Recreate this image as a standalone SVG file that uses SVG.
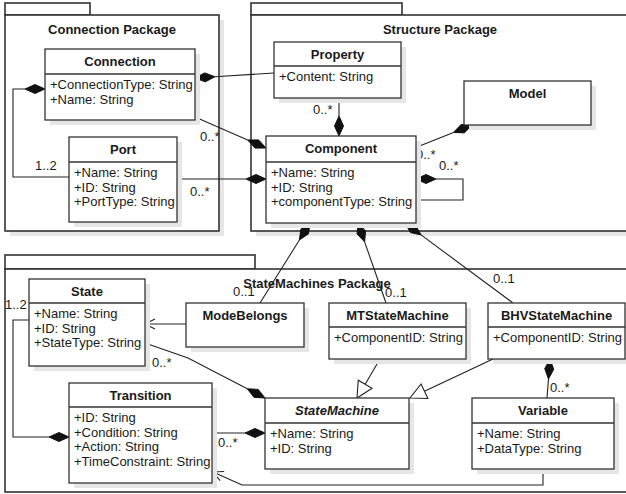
<svg xmlns="http://www.w3.org/2000/svg" width="626" height="494" viewBox="0 0 626 494">
<style>
.pkg{fill:#fff;stroke:#333;stroke-width:1.6}
.sh{fill:#e6e6e6;stroke:none}
.cls{fill:#fff;stroke:#333;stroke-width:1.3}
.div{stroke:#333;stroke-width:1.3}
.ln{fill:none;stroke:#222;stroke-width:1.1}
.dm{fill:#111;stroke:#111;stroke-width:1}
.tri{fill:#fff;stroke:#222;stroke-width:1.1}
text{font-family:"Liberation Sans",Arial,sans-serif;font-size:13px;fill:#1a1a1a}
.t{font-weight:bold;text-anchor:middle}
.it{font-style:italic}
</style>
<rect width="626" height="494" fill="#fff"/>
<!-- packages -->
<g id="pkg-connection">
<rect class="sh" x="10" y="20" width="214" height="216"/>
<rect class="pkg" x="5" y="3" width="85" height="12"/>
<rect class="pkg" x="5" y="15" width="214" height="216"/>
<text class="t" x="112" y="34">Connection Package</text>
</g>
<g id="pkg-structure">
<rect class="sh" x="256" y="20" width="380" height="216"/>
<rect class="pkg" x="251" y="3" width="151" height="12"/>
<rect class="pkg" x="251" y="15" width="380" height="216"/>
<text class="t" x="440" y="34">Structure Package</text>
</g>
<g id="pkg-statemachines">
<rect class="pkg" x="5" y="255" width="250" height="14"/>
<rect class="pkg" x="5" y="269" width="626" height="223"/>
<text class="t" x="317" y="288">StateMachines Package</text>
</g>
<!-- connectors -->
<g id="connectors">
<polyline class="ln" points="69,177 13,177 13,89 25,89"/>
<polygon class="dm" points="45,89 35,84.5 25,89 35,93.5"/>
<text x="35" y="170">1..2</text>
<line class="ln" x1="214.96" y1="76.74" x2="274" y2="73"/>
<polygon class="dm" points="195,78 205.28,81.86 214.96,76.74 204.72,72.88"/>
<line class="ln" x1="195" y1="117" x2="247.67" y2="140"/>
<polygon class="dm" points="266,148 258.64,139.88 247.67,140 255.04,148.12"/>
<text x="200" y="141">0..*</text>
<line class="ln" x1="177" y1="179" x2="246" y2="179"/>
<polygon class="dm" points="266,179 256,174.5 246,179 256,183.5"/>
<text x="190" y="196">0..*</text>
<line class="ln" x1="339" y1="98" x2="339" y2="116"/>
<polygon class="dm" points="339,136 343.5,126 339,116 334.5,126"/>
<text x="313" y="114">0..*</text>
<line class="ln" x1="453.43" y1="132.43" x2="417" y2="147"/>
<polygon class="dm" points="472,125 461.05,124.53 453.43,132.43 464.39,132.89"/>
<text x="416" y="159">0..*</text>
<text x="439" y="170">0..*</text>
<polyline class="ln" points="436,179 463,179 463,200 416,200"/>
<polygon class="dm" points="416,179 426,174.5 436,179 426,183.5"/>
<line class="ln" x1="299.4" y1="239.96" x2="260" y2="303"/>
<polygon class="dm" points="310,223 300.88,229.09 299.4,239.96 308.52,233.87"/>
<text x="233" y="296">0..1</text>
<line class="ln" x1="364.61" y1="241.88" x2="386" y2="303"/>
<polygon class="dm" points="358,223 357.05,233.93 364.61,241.88 365.55,230.95"/>
<text x="385" y="297">0..1</text>
<line class="ln" x1="421.07" y1="234.9" x2="513" y2="303"/>
<polygon class="dm" points="405,223 410.36,232.57 421.07,234.9 415.72,225.33"/>
<text x="493" y="283">0..1</text>
<line class="ln" x1="186" y1="324" x2="145" y2="324"/>
<polyline class="ln" points="155,319 145,324 155,329"/>
<polyline class="ln" points="145,343 188,358 247.25,388.78"/>
<polygon class="dm" points="265,398 258.2,389.4 247.25,388.78 254.06,397.38"/>
<text x="152" y="367">0..*</text>
<polyline class="ln" points="29,320 13,320 13,437 49,437"/>
<polygon class="dm" points="69,437 59,432.5 49,437 59,441.5"/>
<text x="5" y="309">1..2</text>
<line class="ln" x1="212" y1="433" x2="245" y2="433"/>
<polygon class="dm" points="265,433 255,428.5 245,433 255,437.5"/>
<text x="218" y="447">0..*</text>
<line class="ln" x1="365.13" y1="384.22" x2="380" y2="359"/>
<polygon class="tri" points="357,398 372.02,388.28 358.24,380.16"/>
<line class="ln" x1="424.48" y1="391.2" x2="493" y2="359"/>
<polygon class="tri" points="410,398 427.88,398.44 421.08,383.96"/>
<line class="ln" x1="548.47" y1="378.94" x2="547" y2="398"/>
<polygon class="dm" points="550,359 544.74,368.62 548.47,378.94 553.72,369.32"/>
<text x="550" y="392">0..*</text>
<polyline class="ln" points="543,469 543,485 242,485 213,472"/>
<polyline class="ln" points="220.08,480.65 213,472 224.18,471.53"/>
</g>
<!-- classes -->
<g id="Connection">
<rect class="sh" x="50" y="54" width="150" height="71"/>
<rect class="cls" x="45" y="49" width="150" height="71"/>
<line class="div" x1="45" y1="74" x2="195" y2="74"/>
<text class="t" x="120" y="66">Connection</text>
<text x="50" y="89">+ConnectionType: String</text>
<text x="50" y="103.7">+Name: String</text>
</g>
<g id="Port">
<rect class="sh" x="74" y="142" width="108" height="85"/>
<rect class="cls" x="69" y="137" width="108" height="85"/>
<line class="div" x1="69" y1="162" x2="177" y2="162"/>
<text class="t" x="123" y="154">Port</text>
<text x="74" y="177">+Name: String</text>
<text x="74" y="191.7">+ID: String</text>
<text x="74" y="206.4">+PortType: String</text>
</g>
<g id="Property">
<rect class="sh" x="279" y="47" width="127" height="56"/>
<rect class="cls" x="274" y="42" width="127" height="56"/>
<line class="div" x1="274" y1="66" x2="401" y2="66"/>
<text class="t" x="337.5" y="59">Property</text>
<text x="279" y="81">+Content: String</text>
</g>
<g id="Model">
<rect class="sh" x="469" y="86" width="127" height="44"/>
<rect class="cls" x="464" y="81" width="127" height="44"/>
<text class="t" x="527.5" y="98">Model</text>
</g>
<g id="Component">
<rect class="sh" x="271" y="141" width="150" height="87"/>
<rect class="cls" x="266" y="136" width="150" height="87"/>
<line class="div" x1="266" y1="162" x2="416" y2="162"/>
<text class="t" x="341" y="153">Component</text>
<text x="271" y="177">+Name: String</text>
<text x="271" y="191.7">+ID: String</text>
<text x="271" y="206.4">+componentType: String</text>
</g>
<g id="State">
<rect class="sh" x="34" y="284" width="116" height="87"/>
<rect class="cls" x="29" y="279" width="116" height="87"/>
<line class="div" x1="29" y1="303" x2="145" y2="303"/>
<text class="t" x="87" y="296">State</text>
<text x="34" y="318">+Name: String</text>
<text x="34" y="332.7">+ID: String</text>
<text x="34" y="347.4">+StateType: String</text>
</g>
<g id="ModeBelongs">
<rect class="sh" x="191" y="308" width="118" height="44"/>
<rect class="cls" x="186" y="303" width="118" height="44"/>
<text class="t" x="245" y="320">ModeBelongs</text>
</g>
<g id="MTStateMachine">
<rect class="sh" x="334" y="308" width="137" height="56"/>
<rect class="cls" x="329" y="303" width="137" height="56"/>
<line class="div" x1="329" y1="327" x2="466" y2="327"/>
<text class="t" x="397.5" y="320">MTStateMachine</text>
<text x="334" y="342">+ComponentID: String</text>
</g>
<g id="BHVStateMachine">
<rect class="sh" x="493" y="308" width="137" height="56"/>
<rect class="cls" x="488" y="303" width="137" height="56"/>
<line class="div" x1="488" y1="327" x2="625" y2="327"/>
<text class="t" x="556.5" y="320">BHVStateMachine</text>
<text x="493" y="342">+ComponentID: String</text>
</g>
<g id="Transition">
<rect class="sh" x="74" y="388" width="143" height="100"/>
<rect class="cls" x="69" y="383" width="143" height="100"/>
<line class="div" x1="69" y1="407" x2="212" y2="407"/>
<text class="t" x="140.5" y="400">Transition</text>
<text x="74" y="422">+ID: String</text>
<text x="74" y="436.7">+Condition: String</text>
<text x="74" y="451.4">+Action: String</text>
<text x="74" y="466.1">+TimeConstraint: String</text>
</g>
<g id="StateMachine">
<rect class="sh" x="270" y="403" width="144" height="71"/>
<rect class="cls" x="265" y="398" width="144" height="71"/>
<line class="div" x1="265" y1="423" x2="409" y2="423"/>
<text class="t it" x="337" y="415">StateMachine</text>
<text x="270" y="438">+Name: String</text>
<text x="270" y="452.7">+ID: String</text>
</g>
<g id="Variable">
<rect class="sh" x="477" y="403" width="142" height="71"/>
<rect class="cls" x="472" y="398" width="142" height="71"/>
<line class="div" x1="472" y1="423" x2="614" y2="423"/>
<text class="t" x="543" y="415">Variable</text>
<text x="477" y="438">+Name: String</text>
<text x="477" y="452.7">+DataType: String</text>
</g>
</svg>
